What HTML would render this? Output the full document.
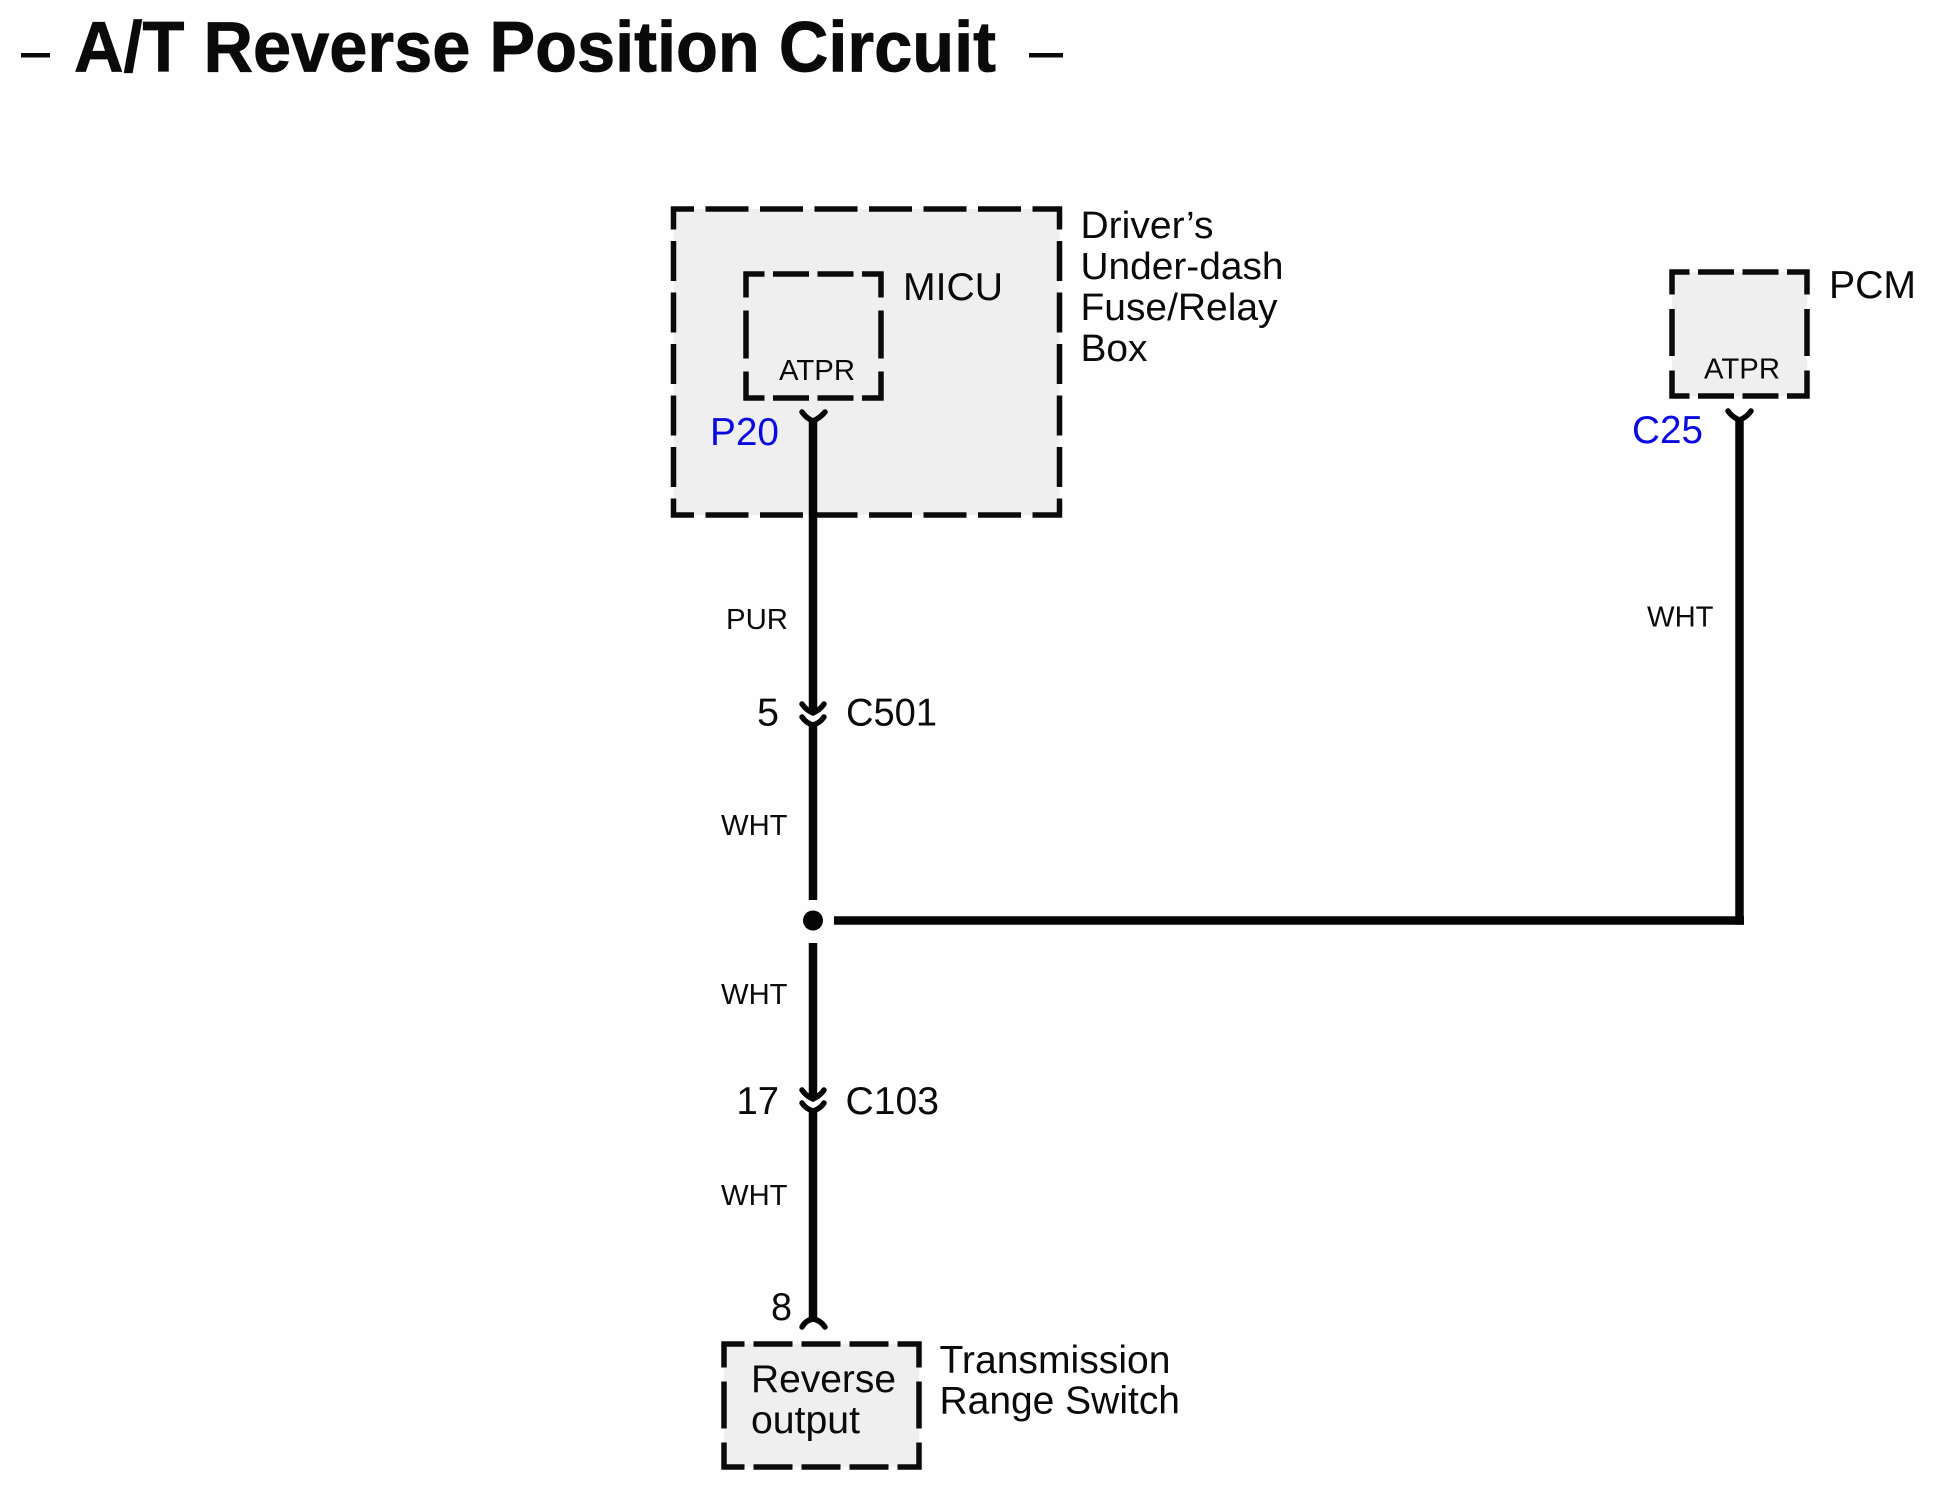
<!DOCTYPE html>
<html><head><meta charset="utf-8"><style>
html,body{margin:0;padding:0;background:#fefefe}
svg{display:block}
text{font-family:"Liberation Sans",sans-serif;fill:#0a0a0a}
.d{stroke:#0a0a0a;stroke-width:5.5;fill:none}
.w{stroke:#050505;stroke-width:8.5;fill:none}
.f{stroke:#050505;stroke-width:5.5;fill:none;stroke-linecap:round}
</style></head><body>
<svg width="1934" height="1490" viewBox="0 0 1934 1490" xmlns="http://www.w3.org/2000/svg">
<rect x="0" y="0" width="1934" height="1490" fill="#fefefe"/>
<!-- title -->
<rect x="21" y="53" width="29" height="4.5" fill="#0a0a0a"/>
<rect x="1029" y="53" width="34" height="4.5" fill="#0a0a0a"/>
<text x="74" y="71.5" font-size="71" font-weight="bold" textLength="922" lengthAdjust="spacingAndGlyphs" style="stroke:#0a0a0a;stroke-width:.8">A/T Reverse Position Circuit</text>

<!-- outer box -->
<rect x="673.5" y="209" width="386" height="306" fill="#efeff0"/>
<g class="d">
<line x1="671" y1="209" x2="1062" y2="209" stroke-dasharray="43 11.5" stroke-dashoffset="20"/>
<line x1="671" y1="515" x2="1062" y2="515" stroke-dasharray="43 11.5" stroke-dashoffset="20"/>
<line x1="673.5" y1="206.5" x2="673.5" y2="517.5" stroke-dasharray="40 11.5" stroke-dashoffset="17"/>
<line x1="1059.5" y1="206.5" x2="1059.5" y2="517.5" stroke-dasharray="40 11.5" stroke-dashoffset="17"/>
</g>
<!-- inner box -->
<g class="d">
<line x1="743.5" y1="274" x2="883.5" y2="274" stroke-dasharray="36 8.5" stroke-dashoffset="15"/>
<line x1="743.5" y1="398" x2="883.5" y2="398" stroke-dasharray="36 8.5" stroke-dashoffset="15"/>
<line x1="746" y1="271.5" x2="746" y2="400.5" stroke-dasharray="48 13" stroke-dashoffset="22"/>
<line x1="881" y1="271.5" x2="881" y2="400.5" stroke-dasharray="48 13" stroke-dashoffset="22"/>
</g>
<!-- PCM box -->
<rect x="1672" y="272" width="135" height="124" fill="#efeff0"/>
<g class="d">
<line x1="1669.5" y1="272" x2="1809.5" y2="272" stroke-dasharray="36 8.5" stroke-dashoffset="16"/>
<line x1="1669.5" y1="396" x2="1809.5" y2="396" stroke-dasharray="36 8.5" stroke-dashoffset="16"/>
<line x1="1672" y1="269.5" x2="1672" y2="398.5" stroke-dasharray="47 14.5" stroke-dashoffset="22"/>
<line x1="1807" y1="269.5" x2="1807" y2="398.5" stroke-dasharray="47 14.5" stroke-dashoffset="22"/>
</g>
<!-- bottom box -->
<rect x="724" y="1344" width="195" height="123" fill="#efeff0"/>
<g class="d">
<line x1="721.5" y1="1344" x2="921.5" y2="1344" stroke-dasharray="39 9" stroke-dashoffset="16"/>
<line x1="721.5" y1="1467" x2="921.5" y2="1467" stroke-dasharray="39 9" stroke-dashoffset="16"/>
<line x1="724" y1="1341.5" x2="724" y2="1469.5" stroke-dasharray="47 14" stroke-dashoffset="21"/>
<line x1="919" y1="1341.5" x2="919" y2="1469.5" stroke-dasharray="47 14" stroke-dashoffset="21"/>
</g>

<!-- wires -->
<g class="w">
<line x1="813" y1="420" x2="813" y2="711"/>
<line x1="813" y1="722" x2="813" y2="900"/>
<line x1="813" y1="943" x2="813" y2="1097"/>
<line x1="813" y1="1108" x2="813" y2="1320"/>
<line x1="834" y1="920.5" x2="1744" y2="920.5"/>
<line x1="1739.5" y1="418" x2="1739.5" y2="924.7"/>
</g>
<circle cx="813" cy="920.5" r="10" fill="#050505"/>
<!-- connectors -->
<g class="f">
<path d="M802 412Q806 418 813 421Q820 418 825 412"/>
<path d="M1728 411Q1732 417 1739.5 420Q1747 417 1751 411"/>
<path d="M802 704Q806 710 813 713Q820 710 824 704"/>
<path d="M802 717Q806 723 813 725Q820 723 824 717"/>
<path d="M802 1090Q806 1096 813 1099Q820 1096 824 1090"/>
<path d="M802 1103Q806 1109 813 1111Q820 1109 824 1103"/>
<path d="M802 1327Q806 1320 813 1319Q820 1320 825 1327"/>
</g>

<!-- labels -->
<g font-size="39">
<text x="1080.5" y="238" font-size="38" textLength="133" lengthAdjust="spacingAndGlyphs">Driver’s</text>
<text x="1080.5" y="279" font-size="38" textLength="203" lengthAdjust="spacingAndGlyphs">Under-dash</text>
<text x="1080.5" y="320" font-size="38" textLength="197" lengthAdjust="spacingAndGlyphs">Fuse/Relay</text>
<text x="1080.5" y="361" font-size="38" textLength="67" lengthAdjust="spacingAndGlyphs">Box</text>
<text x="903" y="300" textLength="100" lengthAdjust="spacingAndGlyphs">MICU</text>
<text x="1829" y="298" textLength="87" lengthAdjust="spacingAndGlyphs">PCM</text>
<text x="710" y="445" textLength="69" lengthAdjust="spacingAndGlyphs" style="fill:#0a0ae0">P20</text>
<text x="1632" y="443" textLength="71" lengthAdjust="spacingAndGlyphs" style="fill:#0a0ae0">C25</text>
<text x="757" y="725.5" textLength="22" lengthAdjust="spacingAndGlyphs">5</text>
<text x="846" y="725.5" textLength="91" lengthAdjust="spacingAndGlyphs">C501</text>
<text x="736.5" y="1114" textLength="42.5" lengthAdjust="spacingAndGlyphs">17</text>
<text x="845.5" y="1114" textLength="93.5" lengthAdjust="spacingAndGlyphs">C103</text>
<text x="771" y="1320" textLength="21" lengthAdjust="spacingAndGlyphs">8</text>
<text x="751" y="1392" textLength="145" lengthAdjust="spacingAndGlyphs">Reverse</text>
<text x="751" y="1433" textLength="109" lengthAdjust="spacingAndGlyphs">output</text>
<text x="939.5" y="1373" textLength="231" lengthAdjust="spacingAndGlyphs">Transmission</text>
<text x="939.5" y="1413.5" textLength="240.5" lengthAdjust="spacingAndGlyphs">Range Switch</text>
</g>
<g font-size="29">
<text x="779" y="380" textLength="76" lengthAdjust="spacingAndGlyphs">ATPR</text>
<text x="1704" y="378.5" textLength="76" lengthAdjust="spacingAndGlyphs">ATPR</text>
<text x="726" y="629" textLength="62" lengthAdjust="spacingAndGlyphs">PUR</text>
<text x="721" y="835" textLength="66.5" lengthAdjust="spacingAndGlyphs">WHT</text>
<text x="721" y="1004" textLength="66.5" lengthAdjust="spacingAndGlyphs">WHT</text>
<text x="721" y="1205" textLength="66.5" lengthAdjust="spacingAndGlyphs">WHT</text>
<text x="1647" y="626.5" textLength="66.5" lengthAdjust="spacingAndGlyphs">WHT</text>
</g>
</svg>
</body></html>
